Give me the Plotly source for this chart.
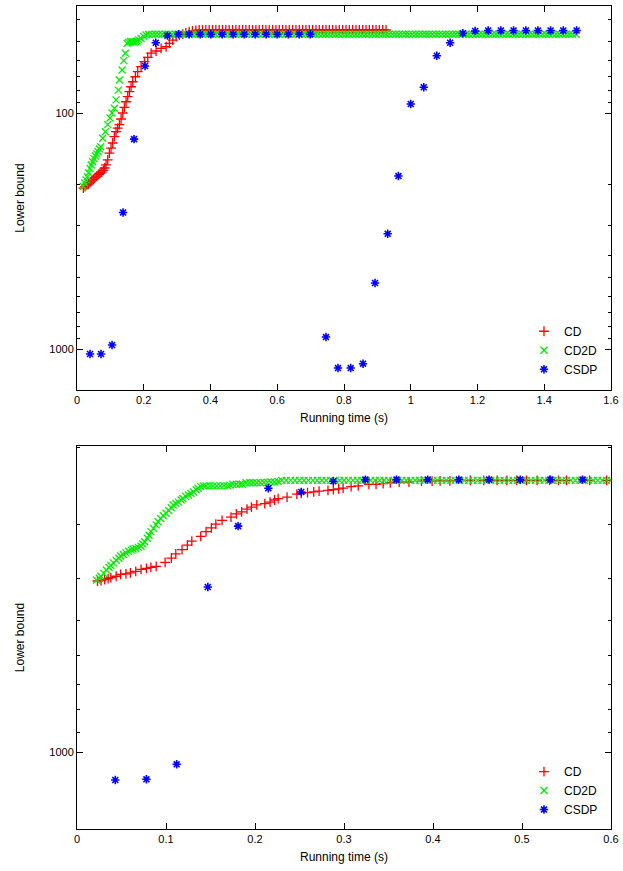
import plotly.graph_objects as go

# ---- upper panel (first instance) ----
cd_top_t = [0.019, 0.024, 0.029, 0.034, 0.039, 0.044, 0.049, 0.054, 0.059, 0.064, 0.069, 0.074,
            0.079, 0.083, 0.087, 0.092, 0.097, 0.102, 0.107, 0.112, 0.117, 0.122, 0.127, 0.132,
            0.137, 0.142, 0.147, 0.152, 0.157, 0.162, 0.167, 0.175, 0.182, 0.192, 0.202, 0.212,
            0.222, 0.237, 0.252, 0.267, 0.277, 0.287, 0.297, 0.307, 0.317, 0.326, 0.336, 0.346,
            0.356, 0.366,
            0.376, 0.386, 0.396, 0.406, 0.416, 0.426, 0.436, 0.446, 0.456, 0.466, 0.476, 0.486,
            0.496, 0.506, 0.516, 0.526, 0.536, 0.546, 0.556, 0.566, 0.576, 0.586, 0.596, 0.606,
            0.616, 0.626, 0.636, 0.646, 0.656, 0.666, 0.676, 0.686, 0.696, 0.706, 0.716, 0.726,
            0.736, 0.746, 0.756, 0.766, 0.776, 0.786, 0.796, 0.806, 0.816, 0.826, 0.836, 0.846,
            0.856, 0.866, 0.876, 0.886, 0.896, 0.906, 0.916, 0.926]
cd_top_v = [208, 205, 202, 200, 197, 194, 191, 188, 185, 182, 180, 178,
            175, 171, 166, 158, 148, 141, 134, 126, 120, 116, 112, 106,
            100, 94.6, 89.6, 85.3, 81.2, 77.4, 73.7, 70.2, 66.8, 63.6, 60.6, 58.1,
            55.8, 54.6, 53.2, 52.4, 50.7, 49.1, 47.5, 46.8, 46.3, 45.8, 45.2, 44.9,
            44.7, 44.5,
            44.5, 44.5, 44.5, 44.5, 44.5, 44.5, 44.5, 44.5, 44.5, 44.5, 44.5, 44.5,
            44.5, 44.5, 44.5, 44.5, 44.5, 44.5, 44.5, 44.5, 44.5, 44.5, 44.5, 44.5,
            44.5, 44.5, 44.5, 44.5, 44.5, 44.5, 44.5, 44.5, 44.5, 44.5, 44.5, 44.5,
            44.5, 44.5, 44.5, 44.5, 44.5, 44.5, 44.5, 44.5, 44.5, 44.5, 44.5, 44.5,
            44.5, 44.5, 44.5, 44.5, 44.5, 44.5, 44.5, 44.5]

cd2d_top_t = [0.019, 0.023, 0.027, 0.031, 0.035, 0.039, 0.043, 0.047, 0.051, 0.055, 0.059, 0.063,
              0.067, 0.071, 0.077, 0.085, 0.092, 0.099, 0.105, 0.112, 0.117, 0.124, 0.127, 0.135,
              0.140, 0.145, 0.150, 0.155, 0.160, 0.165, 0.170, 0.175, 0.180, 0.185, 0.192, 0.200,
              0.207,
              0.215, 0.225, 0.235, 0.245, 0.255, 0.265, 0.275, 0.285, 0.295, 0.305, 0.315, 0.325,
              0.335, 0.345, 0.355, 0.365, 0.375, 0.385, 0.395, 0.405, 0.415, 0.425, 0.435, 0.445,
              0.455, 0.465, 0.475, 0.485, 0.495, 0.505, 0.515, 0.525, 0.535, 0.545, 0.555, 0.565,
              0.575, 0.585, 0.595, 0.605, 0.615, 0.625, 0.635, 0.645, 0.655, 0.665, 0.675, 0.685,
              0.695, 0.705, 0.715, 0.725, 0.735, 0.745, 0.755, 0.765, 0.775, 0.785, 0.795, 0.805,
              0.815, 0.825, 0.835, 0.845, 0.855, 0.865, 0.875, 0.885, 0.895, 0.905, 0.915, 0.925,
              0.935, 0.945, 0.955, 0.965, 0.975, 0.985, 0.995, 1.005, 1.015, 1.025, 1.035, 1.045,
              1.055, 1.065, 1.075, 1.085, 1.095, 1.105, 1.115, 1.125, 1.135, 1.145, 1.155, 1.165,
              1.175, 1.185, 1.195, 1.205, 1.215, 1.225, 1.235, 1.245, 1.255, 1.265, 1.275, 1.285,
              1.295, 1.305, 1.315, 1.325, 1.335, 1.345, 1.355, 1.365, 1.375, 1.385, 1.395, 1.405,
              1.415, 1.425, 1.435, 1.445, 1.455, 1.465, 1.475, 1.485, 1.495]
cd2d_top_v = [205, 198, 192, 186, 179, 172, 166, 161, 156, 152, 149, 146,
              142, 139, 128, 120, 112, 105, 100, 95.5, 88, 80, 72.5, 65.7,
              60, 55.8, 50.7, 50.2, 49.9, 49.9, 50, 49.9, 49.5, 49, 48.3, 47.4,
              46.7,
              46.4, 46.4, 46.4, 46.4, 46.4, 46.4, 46.4, 46.4, 46.4, 46.4, 46.4, 46.4,
              46.4, 46.4, 46.4, 46.4, 46.4, 46.4, 46.4, 46.4, 46.4, 46.4, 46.4, 46.4,
              46.4, 46.4, 46.4, 46.4, 46.4, 46.4, 46.4, 46.4, 46.4, 46.4, 46.4, 46.4,
              46.4, 46.4, 46.4, 46.4, 46.4, 46.4, 46.4, 46.4, 46.4, 46.4, 46.4, 46.4,
              46.4, 46.4, 46.4, 46.4, 46.4, 46.4, 46.4, 46.4, 46.4, 46.4, 46.4, 46.4,
              46.4, 46.4, 46.4, 46.4, 46.4, 46.4, 46.4, 46.4, 46.4, 46.4, 46.4, 46.4,
              46.4, 46.4, 46.4, 46.4, 46.4, 46.4, 46.4, 46.4, 46.4, 46.4, 46.4, 46.4,
              46.4, 46.4, 46.4, 46.4, 46.4, 46.4, 46.4, 46.4, 46.4, 46.4, 46.4, 46.4,
              46.4, 46.4, 46.4, 46.4, 46.4, 46.4, 46.4, 46.4, 46.4, 46.4, 46.4, 46.4,
              46.4, 46.4, 46.4, 46.4, 46.4, 46.4, 46.4, 46.4, 46.4, 46.4, 46.4, 46.4,
              46.4, 46.4, 46.4, 46.4, 46.4, 46.4, 46.4, 46.4, 46.4]

csdp_top_t = [0.039, 0.072, 0.105, 0.138, 0.171, 0.204, 0.236, 0.271, 0.304, 0.336, 0.369, 0.401,
              0.435, 0.468, 0.501, 0.534, 0.567, 0.600, 0.633, 0.666, 0.699, 0.746, 0.782, 0.820,
              0.857, 0.893, 0.931, 0.963, 1.000, 1.039, 1.078, 1.118, 1.156, 1.193, 1.232, 1.270,
              1.308, 1.345, 1.381, 1.419, 1.457, 1.497]
csdp_top_v = [1050, 1050, 962, 264, 129, 63.2, 50.4, 47.0, 46.4, 46.4, 46.4, 46.4,
              46.4, 46.4, 46.4, 46.4, 46.4, 46.4, 46.4, 46.4, 46.4, 890, 1204, 1204,
              1154, 525, 325, 185, 91.6, 77.8, 57.2, 50.4, 45.9, 44.9, 44.7, 44.7,
              44.7, 44.7, 44.7, 44.7, 44.7, 44.7]

# ---- lower panel (second instance) ----
cd_bot_t = [0.023, 0.027, 0.031, 0.035, 0.038, 0.044, 0.049, 0.055, 0.060, 0.066, 0.072, 0.078,
            0.083, 0.089, 0.099, 0.106, 0.111, 0.118, 0.124, 0.129, 0.139, 0.145, 0.151, 0.156,
            0.163, 0.173, 0.179, 0.185, 0.191, 0.196, 0.202, 0.211, 0.217, 0.222, 0.226, 0.236,
            0.247, 0.252, 0.259, 0.266, 0.272, 0.282, 0.288, 0.294, 0.299, 0.308, 0.316, 0.328,
            0.336, 0.344, 0.352, 0.362, 0.373, 0.387, 0.399, 0.408, 0.419, 0.442, 0.457, 0.472,
            0.483, 0.494, 0.505, 0.517, 0.531, 0.541, 0.550, 0.576, 0.595]
cd_bot_v = [405, 404, 402, 400, 398, 395, 391, 390, 388, 385, 381, 379,
            377, 375, 367, 359, 351, 343, 335, 328, 320, 312, 306, 300,
            294, 289, 284, 281, 277, 274, 271, 269, 267, 264, 262, 260,
            256, 255, 254, 253, 252, 251, 250, 249, 248, 246, 245, 243,
            243, 242, 241, 240, 240, 239, 239, 238.5, 238.5, 238, 238, 238,
            238, 238, 238, 238, 238, 238, 238, 238, 238]

cd2d_bot_t = [0.022, 0.025, 0.027, 0.030, 0.033, 0.036, 0.038, 0.041, 0.044, 0.047, 0.049, 0.052,
              0.055, 0.058, 0.061, 0.063, 0.066, 0.069, 0.072, 0.074, 0.076, 0.079, 0.081, 0.083,
              0.086, 0.089, 0.091, 0.094, 0.097, 0.100, 0.103, 0.106, 0.108, 0.111, 0.114, 0.117,
              0.119, 0.122, 0.125, 0.128, 0.131, 0.134, 0.136, 0.139, 0.142, 0.145, 0.149, 0.153,
              0.157, 0.161, 0.165, 0.169, 0.172, 0.175, 0.179, 0.183, 0.186, 0.190, 0.194, 0.198,
              0.202, 0.206, 0.210, 0.214, 0.218, 0.222, 0.226,
              0.230, 0.235, 0.240, 0.245, 0.250, 0.255, 0.260, 0.265, 0.270, 0.275, 0.280, 0.285,
              0.290, 0.295, 0.300, 0.305, 0.310, 0.315, 0.320, 0.325, 0.330, 0.335, 0.340, 0.345,
              0.350, 0.355, 0.360, 0.365, 0.370, 0.375, 0.380, 0.385, 0.390, 0.395, 0.400, 0.405,
              0.410, 0.415, 0.420, 0.425, 0.430, 0.435, 0.440, 0.445, 0.450, 0.455, 0.460, 0.465,
              0.470, 0.475, 0.480, 0.485, 0.490, 0.495, 0.500, 0.505, 0.510, 0.515, 0.520, 0.525,
              0.530, 0.535, 0.540, 0.545, 0.550, 0.555, 0.560, 0.565, 0.570, 0.575, 0.580, 0.585,
              0.590, 0.595, 0.600]
cd2d_bot_v = [403, 399, 395, 389, 382, 377, 373, 368, 363, 359, 355, 352,
              349, 346, 344, 342, 341, 339, 337, 333, 329, 323, 318, 312,
              307, 301, 296, 291, 287, 283, 279, 275, 271, 269, 267, 264,
              262, 259, 257, 255, 253, 250, 248, 246, 245, 245, 245, 245,
              245, 245, 245, 245, 244, 243, 243, 243, 243, 241, 241, 241,
              241, 241, 240.5, 240.5, 240, 240, 239.5,
              238, 238, 238, 238, 238, 238, 238, 238, 238, 238, 238, 238,
              238, 238, 238, 238, 238, 238, 238, 238, 238, 238, 238, 238,
              238, 238, 238, 238, 238, 238, 238, 238, 238, 238, 238, 238,
              238, 238, 238, 238, 238, 238, 238, 238, 238, 238, 238, 238,
              238, 238, 238, 238, 238, 238, 238, 238, 238, 238, 238, 238,
              238, 238, 238, 238, 238, 238, 238, 238, 238, 238, 238, 238,
              238, 238, 238]

csdp_bot_t = [0.043, 0.078, 0.112, 0.147, 0.181, 0.215, 0.252, 0.288, 0.324, 0.359, 0.394, 0.429,
              0.463, 0.498, 0.532, 0.568]
csdp_bot_v = [1159, 1155, 1067, 418, 303, 248, 253, 239, 237, 237, 237, 237,
              237, 237, 237, 237]

series_names = ["CD", "CD2D", "CSDP"]
FONT = "Liberation Sans, Arial, sans-serif"

styles = {
    "CD": dict(symbol="cross-thin", size=7, color="#ff0000", line=dict(color="#ff0000", width=1.3)),
    "CD2D": dict(symbol="x-thin", size=7, color="#00ee00", line=dict(color="#00ee00", width=1.3)),
    "CSDP": dict(symbol="asterisk", size=7, color="#0000ff", line=dict(color="#0000ff", width=1.6)),
}

panels = [
    ("x", "y", "legend", [(cd_top_t, cd_top_v), (cd2d_top_t, cd2d_top_v), (csdp_top_t, csdp_top_v)]),
    ("x2", "y2", "legend2", [(cd_bot_t, cd_bot_v), (cd2d_bot_t, cd2d_bot_v), (csdp_bot_t, csdp_bot_v)]),
]

fig = go.Figure()
for xa, ya, leg, data in panels:
    for name, (t, v) in zip(series_names, data):
        fig.add_trace(go.Scatter(x=t, y=v, mode="markers", name=name,
                                 marker=styles[name], xaxis=xa, yaxis=ya,
                                 legend=leg, hoverinfo="x+y"))


def xframe(**kw):
    return dict(showline=True, linecolor="black", linewidth=1, mirror="allticks",
                ticks="inside", ticklen=6, tickcolor="black", showgrid=False,
                zeroline=False, automargin=False, ticklabeloverflow="allow",
                tickfont=dict(size=11, color="black"),
                title=dict(text="Running time (s)", font=dict(size=12, color="black"), standoff=8),
                **kw)


def yframe(minor_vals, **kw):
    return dict(type="log", showline=True, linecolor="black", linewidth=1, mirror="allticks",
                ticks="inside", ticklen=6, tickcolor="black", showgrid=False, zeroline=False,
                automargin=False, tickvals=[100, 1000], ticktext=["100", "1000"],
                tickfont=dict(size=11, color="black"),
                minor=dict(ticks="inside", ticklen=3, tickcolor="black", tickvals=minor_vals,
                           showgrid=False),
                title=dict(text="Lower bound", font=dict(size=12, color="black"), standoff=22),
                **kw)


minor_top = [40, 50, 60, 70, 80, 90, 200, 300, 400, 500, 600, 700, 800, 900]
minor_bot = [200, 300, 400, 500, 600, 700, 800, 900]

legend_style = dict(xanchor="right", yanchor="bottom", bgcolor="rgba(0,0,0,0)",
                    font=dict(size=12, color="black"), tracegroupgap=0)

fig.update_layout(
    width=623, height=871,
    margin=dict(l=77, r=12, t=6, b=42),
    paper_bgcolor="white", plot_bgcolor="white",
    font=dict(family=FONT, color="black"),
    xaxis=xframe(domain=[0, 1], range=[0, 1.6], dtick=0.2, anchor="y"),
    yaxis=yframe(minor_top, domain=[0.5334, 1], range=[3.1737, 1.5466], anchor="x"),
    xaxis2=xframe(domain=[0, 1], range=[0, 0.6], dtick=0.1, anchor="y2"),
    yaxis2=yframe(minor_bot, domain=[0, 0.4654], range=[3.1766, 2.2976], anchor="x2"),
    legend=dict(x=0.985, y=0.541, **legend_style),
    legend2=dict(x=0.985, y=0.006, **legend_style),
    showlegend=True,
)

# the page's default 8px body margin would shift the whole figure
fig.write_html("out.html", config={"displayModeBar": False},
               post_script="document.body.style.margin = '0px';")
